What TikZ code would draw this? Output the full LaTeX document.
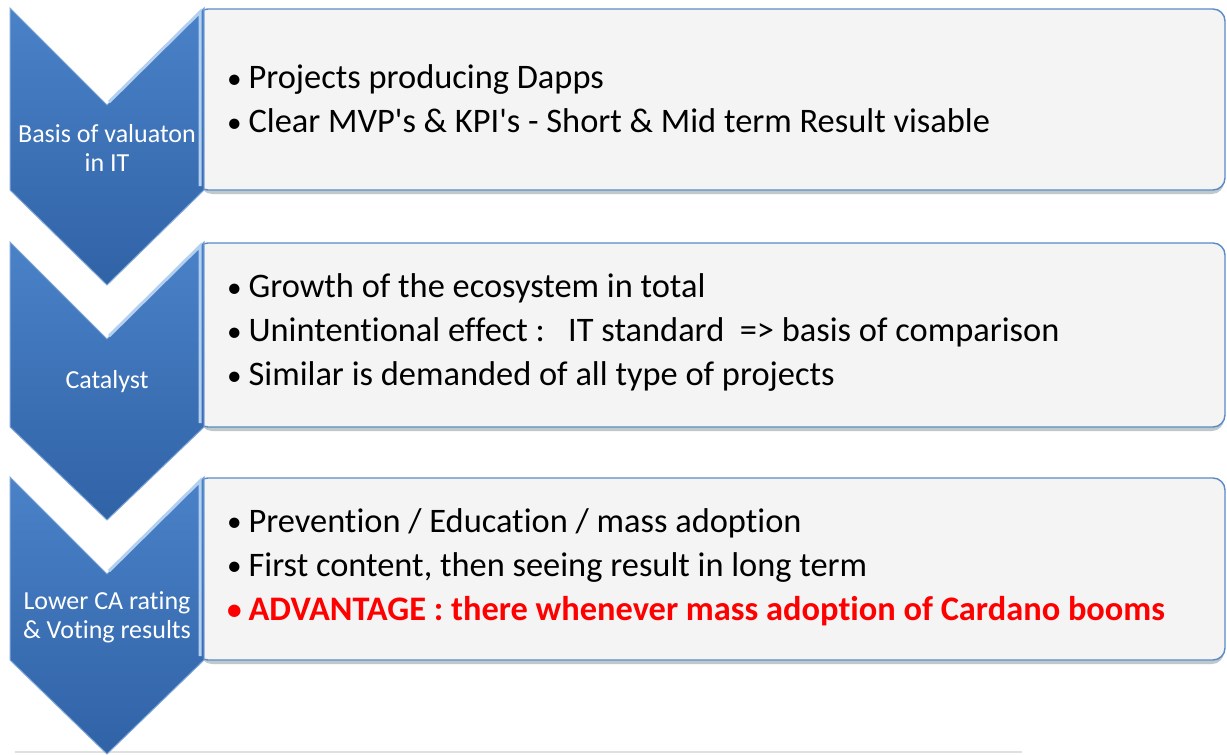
\documentclass[tikz,border=0pt]{standalone}
\usepackage{fontspec}
\setmainfont{Carlito}[Ligatures={TeX,NoCommon}]
\usetikzlibrary{positioning}
\definecolor{chevtop}{HTML}{4A82C8}
\definecolor{chevbot}{HTML}{3062A6}
\definecolor{chevedge}{HTML}{B4D0F0}
\definecolor{boxfill}{HTML}{F4F4F4}
\definecolor{boxline}{HTML}{5B8BC6}
\definecolor{boxshade}{HTML}{BFC9CC}
\definecolor{alertred}{HTML}{FF0000}
\newcommand{\itm}{\makebox[8.6pt][l]{\hspace{-2.2pt}\raisebox{0.3pt}{\scalebox{0.85}{\textbullet}}}}
\newcommand{\apos}{\textquotesingle}
\tikzset{
  chevron/.style={top color=chevtop, bottom color=chevbot, draw=chevtop!70!white, line width=0.5pt},
  panel/.style={fill=boxfill, draw=boxline, line width=0.7pt, rounded corners=6pt},
  panelshadow/.style={fill=boxshade, rounded corners=6pt},
  steplabel/.style={text=white, align=center, font=\fontsize{13}{14.5}\selectfont, inner sep=0pt},
  bullets/.style={anchor=west, align=left, font=\fontsize{17.2}{22}\selectfont, inner sep=0pt}
}
\begin{document}
\begin{tikzpicture}[x=0.5pt, y=-0.5pt]
\useasboundingbox (0,0) rectangle (1227,755);
\fill[white] (0,0) rectangle (1227,755);
\draw[black!12, line width=0.8pt] (15,752) -- (1022,752);
\fill[panelshadow] (200,14) rectangle (1224,194);
\draw[panel] (196,9) rectangle (1225,190);
\draw[chevron] (10,8) -- (107,105) -- (204,8) -- (204,190) -- (107,285) -- (10,190) -- cycle;
\draw[chevedge, line width=1.5pt] (109,102) -- (200,12) -- (200,186);
\node[steplabel] (basis) at (107,148) {Basis of valuaton\\in IT};
\node[bullets] (basisitems) at (231,99) {\itm Projects producing Dapps\\
\itm Clear MVP\apos s \& KPI\apos s - Short \& Mid term Result visable};
\fill[panelshadow] (200,248) rectangle (1224,431);
\draw[panel] (196,243) rectangle (1225,427);
\draw[chevron] (10,242) -- (107,339) -- (204,242) -- (204,427) -- (107,520) -- (10,427) -- cycle;
\draw[chevedge, line width=1.5pt] (109,336) -- (200,246) -- (200,423);
\node[steplabel] (catalyst) at (107,382) {Catalyst};
\node[bullets] (catalystitems) at (231,333) {\itm Growth of the ecosystem in total\\
\itm Unintentional effect :\ \ \ IT standard\ \ => basis of comparison\\
\itm Similar is demanded of all type of projects};
\fill[panelshadow] (200,483) rectangle (1224,664);
\draw[panel] (196,478) rectangle (1225,660);
\draw[chevron] (10,477) -- (107,574) -- (204,477) -- (204,660) -- (107,754) -- (10,660) -- cycle;
\draw[chevedge, line width=1.5pt] (109,571) -- (200,481) -- (200,656);
\node[steplabel] (rating) at (107,617) {Lower CA rating\\\& Voting results};
\node[bullets] (ratingitems) at (231,567) {\itm Prevention / Education / mass adoption\\
\itm First content, then seeing result in long term\\
{\color{alertred}\bfseries\itm ADVANTAGE : there whenever mass adoption of Cardano booms}};
\end{tikzpicture}
\end{document}
